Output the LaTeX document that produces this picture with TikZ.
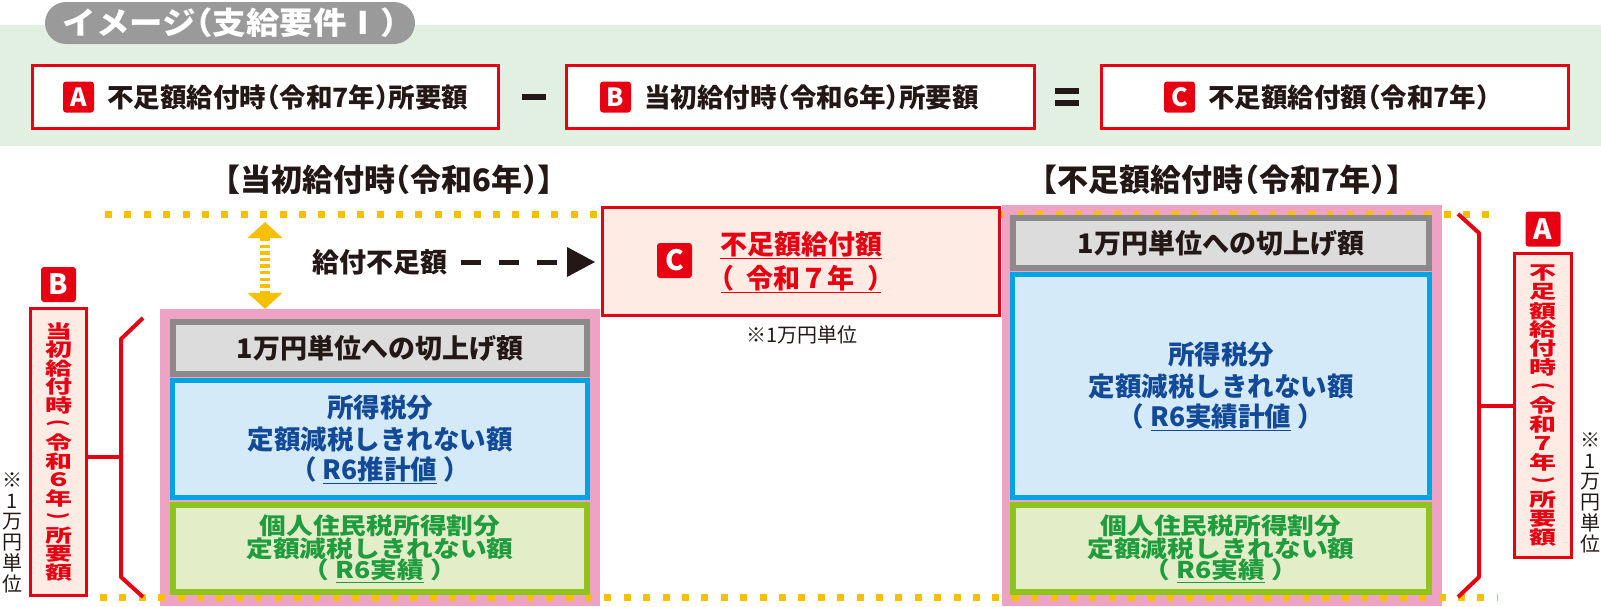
\documentclass[tikz,border=0pt]{standalone}
\usepackage{fontspec}
\usepackage{graphicx}
\usetikzlibrary{arrows.meta}
\newfontfamily\jp{Noto Sans CJK JP}[RawFeature={+halt}]
\newfontfamily\jpv{Noto Sans CJK JP}
\definecolor{jred}{HTML}{E60012}
\definecolor{lpink}{HTML}{FDEBE4}
\definecolor{spink}{HTML}{EFA3C4}
\definecolor{gbord}{HTML}{8A8A8A}
\definecolor{gfill}{HTML}{DCDCDC}
\definecolor{bbord}{HTML}{00A3E3}
\definecolor{bfill}{HTML}{D4EAF9}
\definecolor{grbord}{HTML}{8FC31F}
\definecolor{grfill}{HTML}{E3EDC7}
\definecolor{btext}{HTML}{124A98}
\definecolor{grtext}{HTML}{1E9C3E}
\definecolor{yel}{HTML}{F6BF00}
\definecolor{band}{HTML}{E1F0E1}
\definecolor{pillc}{HTML}{9A9A9A}
\definecolor{ink}{HTML}{231815}
\makeatletter
\newcommand\vtext[3]{\vbox{\offinterlineskip\@tfor\vt@c:=#3\do{\vbox to #1{\vss\hbox to 1em{\hss\scalebox{1}[#2]{\vt@c}\hss}\vss}}}}
\newcommand\hlines[2]{\vbox{\offinterlineskip\@for\hl@c:=#2\do{\vbox to #1{\vss\hbox to 0pt{\hss\hl@c\hss}\vss}}}}
\makeatother
\newcommand\vpo{\rotatebox[origin=c]{-90}{\scalebox{1}[0.8]{(}}}
\newcommand\vpc{\rotatebox[origin=c]{-90}{\scalebox{1}[0.8]{)}}}
\newcommand\wide[1]{\scalebox{1.16}[1]{#1}}
\begin{document}
\begin{tikzpicture}[x=1pt,y=-1pt,
  hbox/.style={draw=jred, line width=3pt, fill=white, inner sep=0pt},
  badge/.style={fill=jred, rounded corners=3pt, text=white, font=\jp\bfseries\fontsize{25}{25}\selectfont, minimum size=31pt, inner sep=0pt},
  bigbadge/.style={badge, minimum size=35pt, font=\jp\bfseries\fontsize{28}{28}\selectfont},
  htext/.style={font=\jp\bfseries\fontsize{26.5}{26.5}\selectfont, text=ink, inner sep=0pt},
  ttext/.style={font=\jp\bfseries\fontsize{31}{31}\selectfont, text=ink, inner sep=0pt},
  graybox/.style={draw=gbord, fill=gfill, line width=6pt, inner sep=0pt, font=\jp\bfseries\fontsize{27}{27}\selectfont, text=ink},
  bluebox/.style={draw=bbord, fill=bfill, line width=5pt, inner sep=0pt, font=\jp\bfseries\fontsize{26.5}{31}\selectfont, text=btext},
  greenbox/.style={draw=grbord, fill=grfill, line width=6pt, inner sep=0pt, font=\jp\bfseries\fontsize{23}{23}\selectfont, text=grtext},
  dots/.style={yel, line width=7pt, dash pattern=on 7pt off 12.4pt},
  brk/.style={jred, line width=4pt, line join=round},
  lab/.style={draw=jred, fill=lpink, line width=3pt, inner sep=0pt},
  vlab/.style={inner sep=0pt, text=jred, font=\jpv\bfseries\fontsize{27}{27}\selectfont},
  note/.style={inner sep=0pt, text=ink, font=\jpv\fontsize{20}{20}\selectfont}]
\useasboundingbox (0,0) rectangle (1601,606);
% header band
\fill[band] (0,25) rectangle (1601,146);
\node[fill=pillc, rounded corners=21pt, minimum width=370pt, minimum height=42pt, inner sep=0pt, text=white, font=\jp\bfseries\fontsize{31}{31}\selectfont] (pill) at (230,23) {\scalebox{1.08}[1]{イメージ（支給要件Ⅰ）}};
% formula boxes
\node[hbox, minimum width=466pt, minimum height=63pt] (hA) at (265.5,97) {};
\node[badge] (bA) at (78.5,97) {A};
\node[htext, anchor=west] (tA) at ([xshift=13pt]bA.east) {不足額給付時（令和7年）所要額};
\node[fill=ink, minimum width=24pt, minimum height=6pt, inner sep=0pt] (minus) at (534,97) {};
\node[hbox, minimum width=468pt, minimum height=63pt] (hB) at (800.5,97) {};
\node[badge] (bB0) at (615.5,97) {B};
\node[htext, anchor=west] (tB) at ([xshift=13pt]bB0.east) {当初給付時（令和6年）所要額};
\node[fill=ink, minimum width=24pt, minimum height=5.5pt, inner sep=0pt] (eq1) at (1067,91) {};
\node[fill=ink, minimum width=24pt, minimum height=5.5pt, inner sep=0pt] (eq2) at (1067,103) {};
\node[hbox, minimum width=467pt, minimum height=63pt] (hC) at (1335,97) {};
\node[badge] (bC0) at (1179.5,97) {C};
\node[htext, anchor=west] (tC) at ([xshift=13pt]bC0.east) {不足額給付額（令和7年）};
% titles
\node[ttext] (tL) at (389,180) {【当初給付時（令和6年）】};
\node[ttext] (tR) at (1222,180) {【不足額給付時（令和7年）】};
% stacks (pink)
\node[fill=spink, minimum width=440pt, minimum height=297pt, inner sep=0pt] (pL) at (380,457.5) {};
\node[fill=spink, minimum width=440pt, minimum height=401pt, inner sep=0pt] (pR) at (1222,405.5) {};
% dotted lines
\coordinate (dTL) at (105,214); \coordinate (dTR) at (1490,214);
\coordinate (dBL) at (100,597); \coordinate (dBR) at (1498,597);
\draw[dots] (dTL) -- (dTR);
\draw[dots] (dBL) -- (dBR);
% left stack
\node[graybox, minimum width=414pt, minimum height=52pt] (gL) at (380,348) {1万円単位への切上げ額};
\node[bluebox, minimum width=415pt, minimum height=117pt] (uL) at (380,439) {\hlines{31pt}{所得税分,定額減税しきれない額,（ \underline{R6推計値} ）}};
\node[greenbox, minimum width=414pt, minimum height=87pt] (nL) at (380,548.5) {\hlines{22.5pt}{\wide{個人住民税所得割分},\wide{定額減税しきれない額},\wide{（ \underline{R6実績} ）}}};
% right stack
\node[graybox, minimum width=416pt, minimum height=50pt] (gR) at (1221,243) {1万円単位への切上げ額};
\node[bluebox, minimum width=417pt, minimum height=223pt] (uR) at (1221,386) {\hlines{31pt}{所得税分,定額減税しきれない額,（ \underline{R6実績計値} ）}};
\node[greenbox, minimum width=416pt, minimum height=87pt] (nR) at (1221,548.5) {\hlines{22.5pt}{\wide{個人住民税所得割分},\wide{定額減税しきれない額},\wide{（ \underline{R6実績} ）}}};
% C box
\node[hbox, fill=lpink, minimum width=397pt, minimum height=108pt] (cbox) at (801,261.5) {};
\node[bigbadge] (bC) at (674.5,260.5) {C};
\node[inner sep=0pt, text=jred, font=\jp\bfseries\fontsize{27}{34}\selectfont] (ct) at (801,262) {\hlines{34pt}{\underline{不足額給付額},\underline{（\ \ 令和７年\ \ ）}}};
\node[note] (cn) at (802,335) {※1万円単位};
% shortfall arrow
\node[ttext, font=\jp\bfseries\fontsize{27}{27}\selectfont] (fus) at (380,262) {給付不足額};
\draw[ink, line width=5pt, dash pattern=on 20pt off 18pt, -{Triangle[length=28pt,width=30pt,line width=0pt]}, shorten >=6pt] ([xshift=13pt]fus.east) -- (cbox.west |- fus.east);
% double arrow
\coordinate (daT) at (265,222);
\coordinate (daB) at (daT |- pL.north);
\draw[yel, line width=10pt, dash pattern=on 3.3pt off 3.3pt, {Triangle[length=16pt,width=35pt,line width=0pt]}-{Triangle[length=16pt,width=35pt,line width=0pt]}] (daT) -- (daB);
% left bracket and label B
\node[lab, minimum width=56pt, minimum height=287pt] (labB) at (58.5,452) {};
\node[vlab] (vB) at (labB.center) {\vtext{18.6pt}{0.68}{当初給付時\vpo 令和６年\vpc 所要額}};
\node[bigbadge] (bB) at (58.5,284.5) {B};
\draw[brk] (143,318) -- (121,339) -- (121,577) -- (143,597);
\coordinate (bmL) at (121,457);
\draw[brk] (bmL) -- (labB.east |- bmL);
\node[note] (vnL) at (12,532) {\vtext{20.6pt}{1}{※1万円単位}};
% right bracket and label A
\node[lab, minimum width=57pt, minimum height=304pt] (labA) at (1543,405.5) {};
\node[vlab] (vA) at (labA.center) {\vtext{18.9pt}{0.69}{不足額給付時\vpo 令和７年\vpc 所要額}};
\node[bigbadge] (bA2) at (1543,229) {A};
\draw[brk] (1458,214) -- (1479,233) -- (1479,577) -- (1458,597);
\coordinate (bmR) at (1479,405.5);
\draw[brk] (bmR) -- (labA.west |- bmR);
\node[note] (vnR) at (1590,492) {\vtext{20.6pt}{1}{※1万円単位}};
\end{tikzpicture}
\end{document}
